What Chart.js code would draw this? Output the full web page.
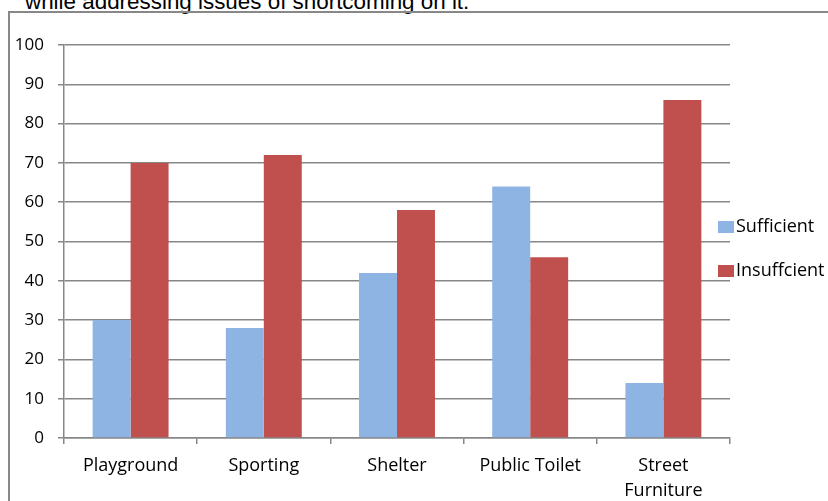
<!DOCTYPE html>
<html>
<head>
<meta charset="utf-8">
<script src="https://cdn.jsdelivr.net/npm/chart.js@4.4.1/dist/chart.umd.min.js"></script>
<style>
    html, body { margin: 0; padding: 0; background: #fff; overflow: hidden; }
    body { width: 828px; height: 501px; position: relative; }
    #title {
        position: absolute; left: 25px; top: -9px;
        font: 22.4px "Liberation Sans", Arial, sans-serif; line-height: 22px;
        color: #000; white-space: nowrap;
    }
    #box {
        position: absolute; left: 8px; top: 11px; width: 830px; height: 500px;
        border: 2px solid #888; box-sizing: border-box;
    }
    #chart { position: absolute; left: 0; top: 0; }
</style>
</head>
<body>
<div id="title">while addressing issues of shortcoming on it.</div>
<div id="box"><canvas id="chart"></canvas></div>
<script>
    var categories = ["Playground", "Sporting", "Shelter", "Public Toilet", ["Street", "Furniture"]];
    var sufficient = [30, 28, 42, 64, 14];
    var insufficient = [70, 72, 58, 46, 86];
    var seriesNames = ["Sufficient", "Insuffcient"];
    var yTicks = [0, 10, 20, 30, 40, 50, 60, 70, 80, 90, 100];

    var FONT = "'Open Sans', sans-serif";
    var gridColor = "#878787";

    // legend drawn by hand so it can sit right next to the plot like the original
    var sideLegend = {
        id: "sideLegend",
        afterDraw: function (chart) {
            var ctx = chart.ctx;
            ctx.save();
            ctx.font = "18px " + FONT;
            ctx.textBaseline = "middle";
            chart.data.datasets.forEach(function (ds, i) {
                var y = 214 + i * 44;
                ctx.fillStyle = ds.backgroundColor;
                ctx.fillRect(708, y - 6, 16, 12);
                ctx.fillStyle = "#000";
                ctx.fillText(ds.label, 726, y);
            });
            ctx.restore();
        }
    };

    var canvas = document.getElementById("chart");
    canvas.width = 818;
    canvas.height = 486;

    new Chart(canvas, {
        type: "bar",
        data: {
            labels: categories,
            datasets: [
                { label: seriesNames[0], data: sufficient, backgroundColor: "#8EB4E3",
                  categoryPercentage: 0.57, barPercentage: 1.0 },
                { label: seriesNames[1], data: insufficient, backgroundColor: "#C0504D",
                  categoryPercentage: 0.57, barPercentage: 1.0 }
            ]
        },
        options: {
            responsive: false,
            animation: false,
            layout: { padding: { top: 32, right: 98, left: 0, bottom: 0 } },
            plugins: {
                legend: { display: false },
                tooltip: { enabled: false }
            },
            scales: {
                x: {
                    grid: { display: true, drawOnChartArea: false, offset: true,
                            color: gridColor, lineWidth: 1.5, tickLength: 6 },
                    border: { color: gridColor, width: 1.5 },
                    ticks: { color: "#000", font: { family: FONT, size: 18, lineHeight: 1.4 },
                             padding: 9, maxRotation: 0, autoSkip: false },
                    afterFit: function (s) { s.height = 61; }
                },
                y: {
                    min: 0, max: 100,
                    afterBuildTicks: function (s) {
                        s.ticks = yTicks.map(function (v) { return { value: v }; });
                    },
                    grid: { color: gridColor, lineWidth: 1.5, tickLength: 6 },
                    border: { color: gridColor, width: 1.5 },
                    ticks: { color: "#000", font: { family: FONT, size: 17 }, padding: 14 },
                    afterFit: function (s) { s.width = 54; }
                }
            }
        },
        plugins: [sideLegend]
    });
</script>
</body>
</html>
